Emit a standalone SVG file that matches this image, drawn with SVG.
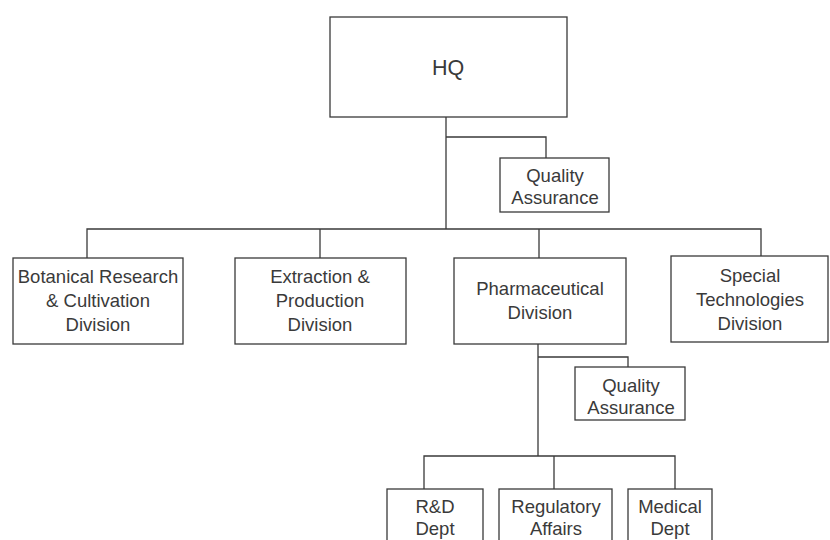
<svg xmlns="http://www.w3.org/2000/svg" width="830" height="540" viewBox="0 0 830 540">
<style>
.box{fill:#fff;stroke:#3a3a3a;stroke-width:1.3}
.ln{fill:none;stroke:#3a3a3a;stroke-width:1.3}
text{font-family:"Liberation Sans",Arial,sans-serif;font-size:18.5px;fill:#3a3a3a;text-anchor:middle}
.big{font-size:21.5px}
</style>
<rect width="830" height="540" fill="#fff"/>
<g id="connectors">
<path class="ln" d="M446,117 V229 M446,137 H546 V158"/>
<path class="ln" d="M87,258 V229 H761 V256 M320,229 V258 M539,229 V258"/>
<path class="ln" d="M538,344 V456 M538,357 H628 V367"/>
<path class="ln" d="M424,489 V456 H675 V489 M554,456 V489"/>
</g>
<g id="hq"><rect class="box" x="330" y="17" width="237" height="100"/><text class="big" x="448" y="75">HQ</text></g>
<g id="qa1"><rect class="box" x="500" y="158" width="109" height="54"/><text x="555" y="182">Quality</text><text x="555" y="204">Assurance</text></g>
<g id="botanical"><rect class="box" x="13" y="258" width="170" height="86"/><text x="98" y="283">Botanical Research</text><text x="98" y="307">&amp; Cultivation</text><text x="98" y="331">Division</text></g>
<g id="extraction"><rect class="box" x="235" y="258" width="171" height="86"/><text x="320" y="283">Extraction &amp;</text><text x="320" y="307">Production</text><text x="320" y="331">Division</text></g>
<g id="pharma"><rect class="box" x="454" y="258" width="172" height="86"/><text x="540" y="295">Pharmaceutical</text><text x="540" y="319">Division</text></g>
<g id="special"><rect class="box" x="671" y="256" width="157" height="86"/><text x="750" y="282">Special</text><text x="750" y="306">Technologies</text><text x="750" y="330">Division</text></g>
<g id="qa2"><rect class="box" x="575" y="367" width="110" height="53"/><text x="631" y="392">Quality</text><text x="631" y="414">Assurance</text></g>
<g id="rnd"><rect class="box" x="387" y="489" width="96" height="70"/><text x="435" y="513">R&amp;D</text><text x="435" y="535">Dept</text></g>
<g id="regulatory"><rect class="box" x="499" y="489" width="113" height="70"/><text x="556" y="513">Regulatory</text><text x="556" y="535">Affairs</text></g>
<g id="medical"><rect class="box" x="628" y="489" width="84" height="70"/><text x="670" y="513">Medical</text><text x="670" y="535">Dept</text></g>
</svg>
